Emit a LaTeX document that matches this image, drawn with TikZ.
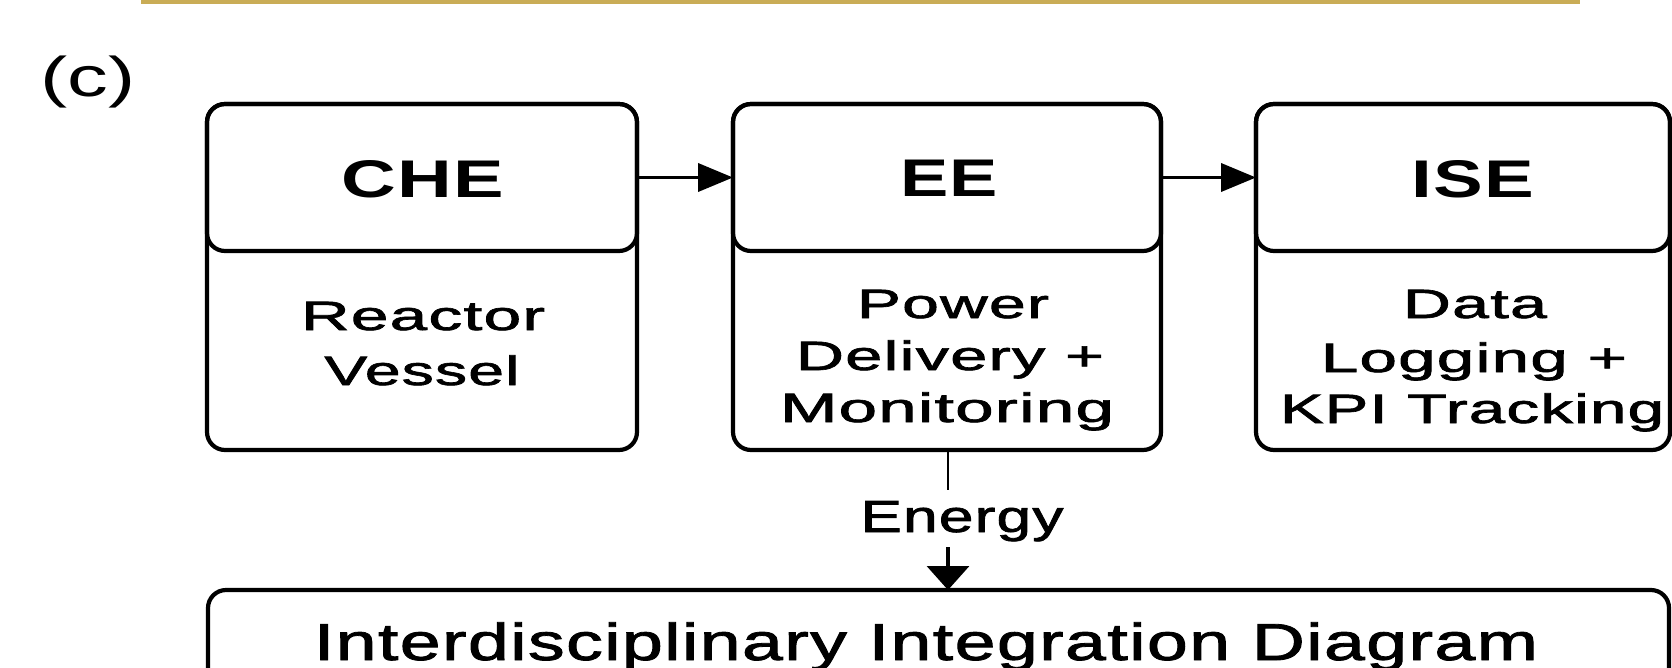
\documentclass[tikz,border=0pt]{standalone}
\usepackage{fontspec}
\usepackage{graphicx}
\setmainfont{Liberation Sans}
\newfontfamily\bodyf[LetterSpace=2, FakeBold=1.5]{Liberation Sans}
\newfontfamily\headf[LetterSpace=2]{Liberation Sans}
\usetikzlibrary{arrows.meta}
\definecolor{framegold}{RGB}{201,172,86}
\newcommand{\fitw}[2]{\resizebox{#1pt}{\height}{#2}}
\begin{document}
\begin{tikzpicture}[x=1pt,y=-1pt,
  boxshape/.style={draw, line width=4.2pt, rounded corners=18pt, inner sep=0pt, outer sep=0pt},
  txt/.style={inner sep=0pt, outer sep=0pt, anchor=base},
  head/.style={txt, font=\fontsize{53}{60}\headf\bfseries},
  body/.style={txt, font=\fontsize{41}{46}\bodyf},
  arr/.style={line width=3.8pt, -{Triangle[length=35pt, width=28pt]}},
  darr/.style={line width=3.5pt, -{Triangle[length=24pt, width=42pt]}},
  thinline/.style={line width=2.6pt}]
\useasboundingbox (0,0) rectangle (1672,667);
\clip (0,0) rectangle (1672,667);

% top frame (partial)
\draw[framegold, line width=4pt] (143,-30) rectangle (1578,2);

% label
\node[txt, font=\fontsize{56}{60}\selectfont] (lab) at (88,96) {\fitw{95}{(c)}};

% boxes
\node[boxshape, minimum width=430pt, minimum height=346pt] (che) at (422,277) {};
\node[boxshape, minimum width=430pt, minimum height=147pt] (cheh) at (422,177.5) {};
\node[boxshape, minimum width=428pt, minimum height=346pt] (ee) at (947,277) {};
\node[boxshape, minimum width=428pt, minimum height=147pt] (eeh) at (947,177.5) {};
\node[boxshape, minimum width=414pt, minimum height=346pt] (ise) at (1463,277) {};
\node[boxshape, minimum width=414pt, minimum height=147pt] (iseh) at (1463,177.5) {};
\node[boxshape, minimum width=1461pt, minimum height=140pt] (bot) at (938.5,660) {};

% header texts
\node[head] (cheT) at (423,197) {\fitw{163}{CHE}};
\node[head] (eeT) at (949,196) {\fitw{98}{EE}};
\node[head] (iseT) at (1473,197) {\fitw{123}{ISE}};

% body texts
\node[body] (che1) at (423,330) {\fitw{244}{Reactor}};
\node[body] (che2) at (422,385) {\fitw{195}{Vessel}};
\node[body] (ee1) at (953,318) {\fitw{192}{Power}};
\node[body] (ee2) at (950,370) {\fitw{308}{Delivery +}};
\node[body] (ee3) at (947,422) {\fitw{334}{Monitoring}};
\node[body] (ise1) at (1475,318) {\fitw{144}{Data}};
\node[body] (ise2) at (1474,372) {\fitw{306}{Logging +}};
\node[body] (ise3) at (1472,423) {\fitw{384}{KPI Tracking}};

% energy label and bottom title
\node[txt, font=\fontsize{45}{50}\bodyf] (energy) at (962,532) {\fitw{203}{Energy}};
\node[txt, font=\fontsize{52}{58}\bodyf] (title) at (926,660) {\fitw{1224}{Interdisciplinary Integration Diagram}};

% connectors
\draw[arr] (cheh.east) -- (eeh.west);
\draw[arr] (eeh.east) -- (iseh.west);
\coordinate (e1) at (948,490);
\coordinate (e2) at (948,547);
\draw[thinline] (ee.south -| e1) -- (e1);
\draw[darr] (e2) -- (bot.north -| e2);
\end{tikzpicture}
\end{document}
